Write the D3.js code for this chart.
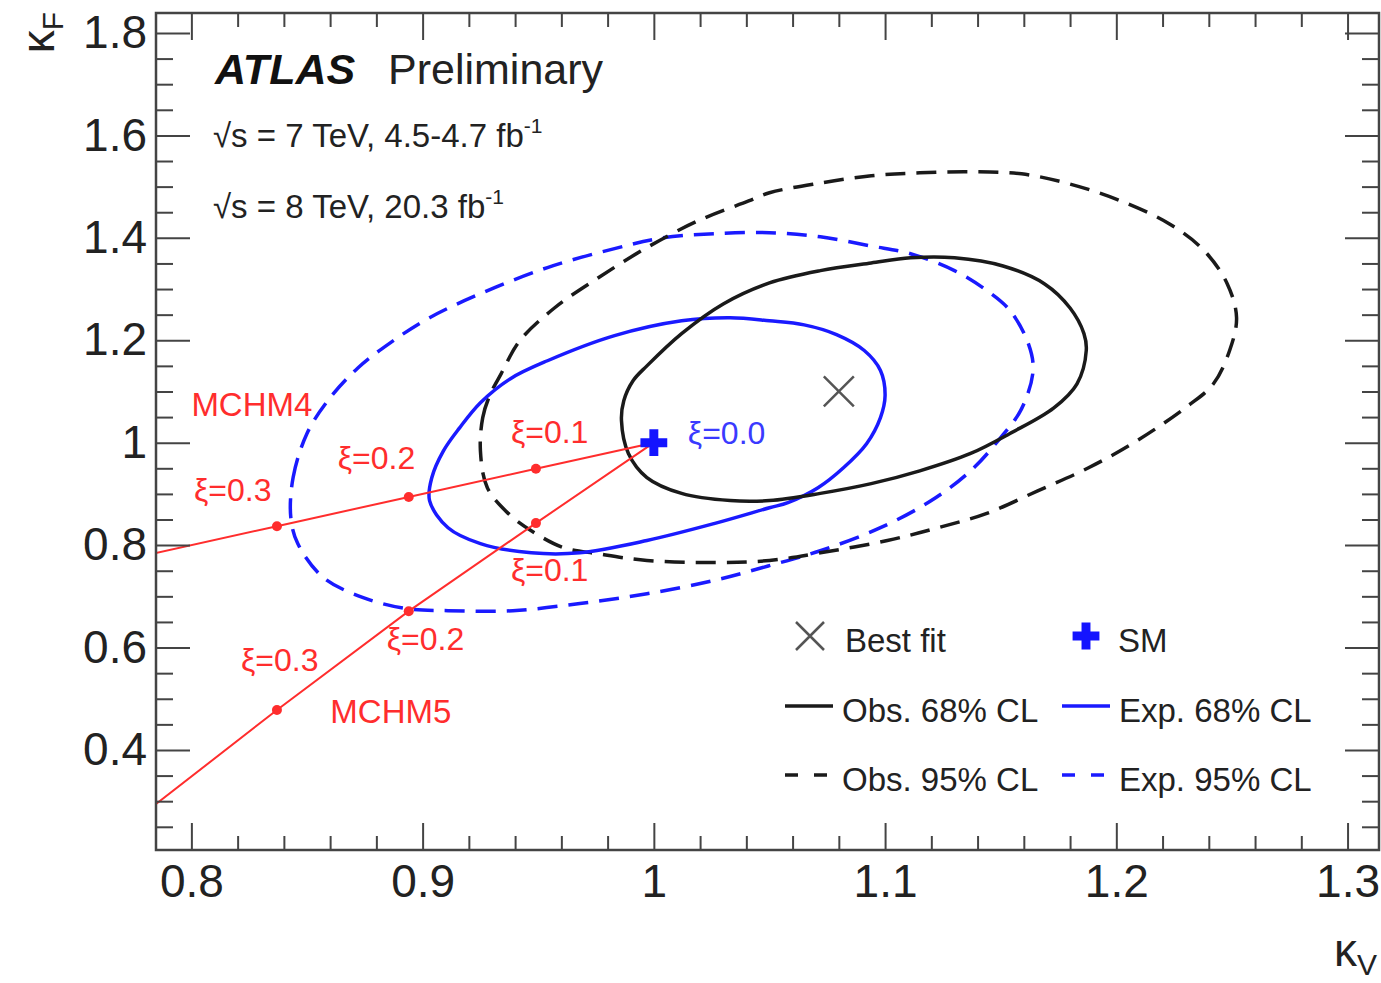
<!DOCTYPE html>
<html>
<head>
<meta charset="utf-8">
<script src="https://cdn.jsdelivr.net/npm/d3@7"></script>
<style>
  body { margin: 0; background: #fff; }
  svg { display: block; font-family: 'Liberation Sans', Arial, Helvetica, sans-serif; }
</style>
</head>
<body>
<svg id="chart"></svg>
<script>
// axis ticks
const kvTicks = [0.8, 0.9, 1.0, 1.1, 1.2, 1.3];
const kvTickLabels = ['0.8', '0.9', '1', '1.1', '1.2', '1.3'];
const kfTicks = [0.4, 0.6, 0.8, 1.0, 1.2, 1.4, 1.6, 1.8];
const kfTickLabels = ['0.4', '0.6', '0.8', '1', '1.2', '1.4', '1.6', '1.8'];

// contours [kappaV, kappaF]
const obs68 = [[0.986,1.043],[0.987,1.082],[0.991,1.121],[0.997,1.150],[1.012,1.213],[1.030,1.271],[1.050,1.312],[1.072,1.336],[1.094,1.351],[1.111,1.361],[1.130,1.361],[1.151,1.345],[1.169,1.310],[1.180,1.263],[1.186,1.213],[1.187,1.180],[1.183,1.115],[1.173,1.068],[1.154,1.018],[1.137,0.979],[1.115,0.945],[1.094,0.920],[1.072,0.901],[1.050,0.887],[1.033,0.887],[1.012,0.901],[0.997,0.932],[0.989,0.979]];
const obs95 = [[0.925,0.984],[0.926,1.049],[0.929,1.092],[0.934,1.135],[0.942,1.199],[0.957,1.263],[0.976,1.322],[0.997,1.381],[1.019,1.433],[1.041,1.472],[1.050,1.488],[1.072,1.507],[1.094,1.521],[1.115,1.527],[1.137,1.529],[1.159,1.525],[1.180,1.505],[1.202,1.472],[1.223,1.427],[1.238,1.375],[1.248,1.310],[1.252,1.244],[1.249,1.180],[1.242,1.115],[1.231,1.072],[1.209,1.004],[1.188,0.951],[1.166,0.906],[1.144,0.862],[1.123,0.834],[1.101,0.809],[1.072,0.785],[1.050,0.770],[1.026,0.766],[0.997,0.770],[0.976,0.783],[0.961,0.795],[0.947,0.828],[0.937,0.862],[0.928,0.912]];
const exp68 = [[0.903,0.887],[0.904,0.932],[0.909,0.984],[0.916,1.029],[0.925,1.078],[0.938,1.125],[0.954,1.160],[0.983,1.209],[1.012,1.238],[1.033,1.244],[1.050,1.238],[1.065,1.230],[1.079,1.211],[1.091,1.180],[1.098,1.141],[1.100,1.092],[1.098,1.049],[1.092,0.998],[1.082,0.951],[1.071,0.912],[1.058,0.883],[1.050,0.873],[1.026,0.842],[0.997,0.809],[0.968,0.785],[0.947,0.785],[0.925,0.803],[0.911,0.834]];
const exp95 = [[0.843,0.854],[0.844,0.932],[0.850,1.018],[0.859,1.082],[0.872,1.146],[0.886,1.195],[0.903,1.244],[0.925,1.291],[0.954,1.342],[0.983,1.379],[1.004,1.400],[1.026,1.408],[1.050,1.410],[1.072,1.402],[1.094,1.384],[1.111,1.369],[1.130,1.336],[1.144,1.297],[1.154,1.258],[1.162,1.193],[1.164,1.141],[1.159,1.066],[1.150,1.010],[1.137,0.945],[1.120,0.887],[1.098,0.834],[1.072,0.789],[1.050,0.760],[1.026,0.731],[0.997,0.705],[0.968,0.686],[0.939,0.672],[0.911,0.672],[0.893,0.676],[0.874,0.698],[0.857,0.737],[0.846,0.803]];

// fit and SM point
const bestFit = [1.08, 1.10];
const smPoint = [1.0, 1.0];

// composite Higgs benchmark lines, xi = 0 ... 0.3 and on to the frame edge
const mchm4Line = [[1.0,1.0],[0.949,0.949],[0.894,0.894],[0.837,0.837],[0.78,0.78]];
const mchm5Line = [[1.0,1.0],[0.949,0.843],[0.894,0.671],[0.837,0.478],[0.78,0.278]];
const xiValues = ['0.1', '0.2', '0.3'];
const mchm4Points = [[0.949,0.949],[0.894,0.894],[0.837,0.837]];
const mchm5Points = [[0.949,0.843],[0.894,0.671],[0.837,0.478]];

class ContourPlot {

    constructor(_config) {
      this.config = {
        parentElement: _config.parentElement,
        containerWidth: _config.containerWidth || 1381,
        containerHeight: _config.containerHeight || 983,
        margin: _config.margin || {top: 13, right: 2, bottom: 133, left: 156}
      }
      this.initVis();
    }

    initVis() {
        let vis = this;

        vis.width = vis.config.containerWidth - vis.config.margin.left - vis.config.margin.right;
        vis.height = vis.config.containerHeight - vis.config.margin.top - vis.config.margin.bottom;

        vis.xScale = d3.scaleLinear()
            .domain([0.7847, 1.3136])
            .range([0, vis.width]);
        vis.yScale = d3.scaleLinear()
            .domain([0.2047, 1.839])
            .range([vis.height, 0]);

        vis.svg = d3.select(vis.config.parentElement)
            .attr('width', vis.config.containerWidth)
            .attr('height', vis.config.containerHeight);

        vis.chart = vis.svg.append('g')
            .attr('transform', `translate(${vis.config.margin.left},${vis.config.margin.top})`);

        vis.svg.append('defs').append('clipPath')
            .attr('id', 'frame-clip')
          .append('rect')
            .attr('width', vis.width)
            .attr('height', vis.height);

        vis.marks = vis.chart.append('g')
            .attr('clip-path', 'url(#frame-clip)');
        vis.axes = vis.chart.append('g');
        vis.labels = vis.chart.append('g');

        vis.renderVis();
    }

    renderVis() {
        let vis = this;
        const x = vis.xScale, y = vis.yScale;

        // minor ticks
        const kvMinor = d3.range(40, 66).filter(i => i % 5 !== 0).map(i => i * 0.02);
        const kfMinor = d3.range(5, 37).filter(i => i % 4 !== 0).map(i => i * 0.05);

        const addAxis = (axis, transform) => {
            const g = vis.axes.append('g')
                .attr('class', 'axis')
                .attr('transform', transform)
                .call(axis);
            g.select('.domain').remove();
            g.selectAll('line').attr('stroke', '#444').attr('stroke-width', 2);
            g.selectAll('text')
                .style('font-size', '46px')
                .style('font-family', 'inherit')
                .attr('fill', '#222');
            return g;
        };

        addAxis(d3.axisBottom(x).tickValues(kvTicks).tickFormat((d, i) => kvTickLabels[i])
            .tickSize(-27).tickPadding(14), `translate(0,${vis.height})`);
        addAxis(d3.axisBottom(x).tickValues(kvMinor).tickFormat('').tickSize(-14), `translate(0,${vis.height})`);
        addAxis(d3.axisTop(x).tickValues(kvTicks).tickFormat('').tickSize(-27), 'translate(0,0)');
        addAxis(d3.axisTop(x).tickValues(kvMinor).tickFormat('').tickSize(-14), 'translate(0,0)');
        addAxis(d3.axisLeft(y).tickValues(kfTicks).tickFormat((d, i) => kfTickLabels[i])
            .tickSize(-34).tickPadding(9), 'translate(0,0)');
        addAxis(d3.axisLeft(y).tickValues(kfMinor).tickFormat('').tickSize(-17), 'translate(0,0)');
        addAxis(d3.axisRight(y).tickValues(kfTicks).tickFormat('').tickSize(-34), `translate(${vis.width},0)`);
        addAxis(d3.axisRight(y).tickValues(kfMinor).tickFormat('').tickSize(-17), `translate(${vis.width},0)`);

        vis.axes.append('rect')
            .attr('width', vis.width)
            .attr('height', vis.height)
            .attr('fill', 'none')
            .attr('stroke', '#444')
            .attr('stroke-width', 2.5);

        // contours
        const contour = d3.line()
            .x(d => x(d[0]))
            .y(d => y(d[1]))
            .curve(d3.curveCatmullRomClosed.alpha(0.5));

        const contours = [
            {data: exp95, color: '#1a1aff', dash: '20,11'},
            {data: obs95, color: '#1a1a1a', dash: '20,11'},
            {data: exp68, color: '#1a1aff', dash: null},
            {data: obs68, color: '#1a1a1a', dash: null}
        ];

        vis.marks.selectAll('.contour')
            .data(contours)
            .join('path')
                .attr('class', 'contour')
                .attr('d', d => contour(d.data))
                .attr('fill', 'none')
                .attr('stroke', d => d.color)
                .attr('stroke-width', 3.5)
                .attr('stroke-dasharray', d => d.dash);

        // benchmark lines
        const straight = d3.line().x(d => x(d[0])).y(d => y(d[1]));
        const red = '#ff2d2d';

        vis.marks.selectAll('.model-line')
            .data([mchm4Line, mchm5Line])
            .join('path')
                .attr('class', 'model-line')
                .attr('d', straight)
                .attr('fill', 'none')
                .attr('stroke', red)
                .attr('stroke-width', 2);

        vis.marks.selectAll('.model-dot')
            .data(mchm4Points.concat(mchm5Points))
            .join('circle')
                .attr('class', 'model-dot')
                .attr('cx', d => x(d[0]))
                .attr('cy', d => y(d[1]))
                .attr('r', 5)
                .attr('fill', red);

        // best fit and SM markers
        const drawTimes = (g, cx, cy, r) => {
            g.append('path')
                .attr('d', `M${cx - r},${cy - r}L${cx + r},${cy + r}M${cx - r},${cy + r}L${cx + r},${cy - r}`)
                .attr('stroke', '#555')
                .attr('stroke-width', 2.5)
                .attr('fill', 'none');
        };
        const drawPlus = (g, cx, cy) => {
            g.append('path')
                .attr('d', d3.symbol(d3.symbolCross, 400)())
                .attr('transform', `translate(${cx},${cy})`)
                .attr('fill', '#1414ff');
        };

        drawTimes(vis.labels, x(bestFit[0]), y(bestFit[1]), 15);
        drawPlus(vis.labels, x(smPoint[0]), y(smPoint[1]));

        // xi labels next to their points
        const xi4Offsets = [[-25, -26], [-71, -28], [-83, -25]];
        const xi5Offsets = [[-25, 58], [-22, 39], [-36, -39]];
        const xiText = (pts, offsets) => {
            pts.forEach((p, i) => {
                vis.labels.append('text')
                    .attr('x', x(p[0]) + offsets[i][0])
                    .attr('y', y(p[1]) + offsets[i][1])
                    .attr('fill', red)
                    .style('font-size', '32px')
                    .text(`ξ=${xiValues[i]}`);
            });
        };
        xiText(mchm4Points, xi4Offsets);
        xiText(mchm5Points, xi5Offsets);

        vis.labels.append('text')
            .attr('x', x(0.8)).attr('y', y(1.053))
            .attr('fill', red).style('font-size', '33px')
            .text('MCHM4');
        vis.labels.append('text')
            .attr('x', x(0.8601)).attr('y', y(0.453))
            .attr('fill', red).style('font-size', '33px')
            .text('MCHM5');
        vis.labels.append('text')
            .attr('x', x(smPoint[0]) + 34).attr('y', y(smPoint[1]) + 1)
            .attr('fill', '#3a3aff').style('font-size', '32px')
            .text('ξ=0.0');

        // ATLAS label
        const top = vis.svg.append('g');
        top.append('text')
            .attr('x', 215).attr('y', 84)
            .style('font-size', '43px').style('font-weight', 'bold').style('font-style', 'italic')
            .attr('fill', '#111')
            .text('ATLAS');
        top.append('text')
            .attr('x', 388).attr('y', 84)
            .style('font-size', '43px')
            .attr('fill', '#222')
            .text('Preliminary');

        const lumi = [['√s = 7 TeV, 4.5-4.7 fb', 147], ['√s = 8 TeV, 20.3 fb', 218]];
        lumi.forEach(([t, yy]) => {
            const txt = top.append('text')
                .attr('x', 213).attr('y', yy)
                .style('font-size', '33px')
                .attr('fill', '#222');
            txt.append('tspan').text(t);
            txt.append('tspan').attr('dy', -14).style('font-size', '21px').text('-1');
        });

        // axis titles
        const yTitle = vis.svg.append('text')
            .attr('transform', 'translate(54,12) rotate(-90)')
            .attr('text-anchor', 'end')
            .style('font-size', '46px')
            .attr('fill', '#222');
        yTitle.append('tspan').text('κ');
        yTitle.append('tspan').attr('dy', 9).style('font-size', '30px').text('F');

        const xTitle = vis.svg.append('text')
            .attr('x', 1377).attr('y', 966)
            .attr('text-anchor', 'end')
            .style('font-size', '46px')
            .attr('fill', '#222');
        xTitle.append('tspan').text('κ');
        xTitle.append('tspan').attr('dy', 9).style('font-size', '30px').text('V');

        // legend
        const leg = vis.svg.append('g')
            .style('font-size', '33px')
            .attr('fill', '#222');

        drawTimes(leg, 810, 636, 14);
        leg.append('text').attr('x', 845).attr('y', 652).text('Best fit');
        drawPlus(leg, 1086, 636);
        leg.append('text').attr('x', 1118).attr('y', 652).text('SM');

        const legRows = [
            {x: 785, y: 706, color: '#1a1a1a', dash: null, label: 'Obs. 68% CL'},
            {x: 1062, y: 706, color: '#1a1aff', dash: null, label: 'Exp. 68% CL'},
            {x: 785, y: 775, color: '#1a1a1a', dash: '13,16', label: 'Obs. 95% CL'},
            {x: 1062, y: 775, color: '#1a1aff', dash: '13,16', label: 'Exp. 95% CL'}
        ];
        legRows.forEach(r => {
            leg.append('line')
                .attr('x1', r.x).attr('x2', r.x + 48)
                .attr('y1', r.y).attr('y2', r.y)
                .attr('stroke', r.color)
                .attr('stroke-width', 3.5)
                .attr('stroke-dasharray', r.dash);
            leg.append('text')
                .attr('x', r.x + 57).attr('y', r.y + 16)
                .text(r.label);
        });
    }
}

new ContourPlot({parentElement: '#chart'});
</script>
</body>
</html>
